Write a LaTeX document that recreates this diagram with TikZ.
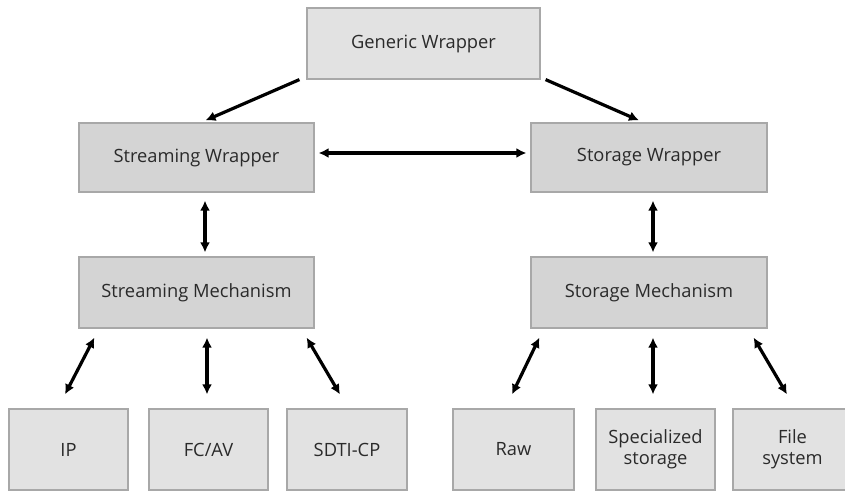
\documentclass[tikz,border=0pt]{standalone}
\usepackage{fontspec}
\setmainfont{Open Sans}
\usetikzlibrary{arrows.meta}
\definecolor{lightbox}{HTML}{E2E2E2}
\definecolor{darkbox}{HTML}{D4D4D4}
\definecolor{boxline}{HTML}{A8A8A8}
\definecolor{txt}{HTML}{2A2A2A}
\begin{document}
\begin{tikzpicture}[x=1pt,y=-1pt,
  box/.style={draw=boxline,line width=1.2pt,inner sep=0pt,text=txt,font=\fontsize{18.3}{21}\selectfont,align=center},
  lbox/.style={box,fill=lightbox},
  dbox/.style={box,fill=darkbox},
  arr/.style={line width=3.2pt,-{Latex[length=10pt,width=10pt]}},
  darr/.style={line width=3.2pt,{Latex[length=10pt,width=10pt]}-{Latex[length=10pt,width=10pt]}}]
\useasboundingbox[fill=white] (0,0) rectangle (845,493);
\node[lbox,minimum width=233pt,minimum height=71pt] (gen) at (423.5,43.5) {Generic Wrapper};
\node[dbox,minimum width=235pt,minimum height=69pt] (sw) at (196.5,157.5) {Streaming Wrapper};
\node[dbox,minimum width=236pt,minimum height=69pt] (stw) at (649,157.5) {Storage Wrapper};
\node[dbox,minimum width=235pt,minimum height=71pt] (sm) at (196.5,292.5) {Streaming Mechanism};
\node[dbox,minimum width=236pt,minimum height=71pt] (stm) at (649,292.5) {Storage Mechanism};
\node[lbox,minimum width=119pt,minimum height=81pt] (ip) at (68.5,449.5) {IP};
\node[lbox,minimum width=119pt,minimum height=81pt] (fc) at (208.5,449.5) {FC/AV};
\node[lbox,minimum width=120pt,minimum height=81pt] (sdti) at (347,449.5) {SDTI-CP};
\node[lbox,minimum width=121pt,minimum height=81pt] (raw) at (513.5,449.5) {Raw};
\node[lbox,minimum width=119pt,minimum height=81pt] (spec) at (655.5,449.5) {Specialized\\storage};
\node[lbox,minimum width=119pt,minimum height=81pt] (file) at (792.5,449.5) {File\\system};
\draw[arr] ([xshift=-7pt]gen.south west) -- ([xshift=9pt,yshift=2pt]sw.north);
\draw[arr] ([xshift=5pt]gen.south east) -- ([xshift=-10pt,yshift=2pt]stw.north);
\draw[darr] ([xshift=4pt,yshift=4.5pt]sw.east) -- ([xshift=-4pt,yshift=4.5pt]stw.west);
\draw[darr] ([xshift=8.5pt,yshift=-8pt]sw.south) -- ([xshift=8.5pt,yshift=4pt]sm.north);
\draw[darr] ([xshift=4pt,yshift=-8pt]stw.south) -- ([xshift=4pt,yshift=4pt]stm.north);
\draw[darr] ([xshift=16pt,yshift=-9pt]sm.south west) -- ([xshift=-3.5pt,yshift=14pt]ip.north);
\draw[darr] ([xshift=10.5pt,yshift=-9pt]sm.south) -- ([xshift=-1.5pt,yshift=14pt]fc.north);
\draw[darr] ([xshift=-8pt,yshift=-9pt]sm.south east) -- ([xshift=-7pt,yshift=14pt]sdti.north);
\draw[darr] ([xshift=9pt,yshift=-9pt]stm.south west) -- ([xshift=-1.5pt,yshift=14pt]raw.north);
\draw[darr] ([xshift=4pt,yshift=-9pt]stm.south) -- ([xshift=-2.5pt,yshift=14pt]spec.north);
\draw[darr] ([xshift=-14pt,yshift=-9pt]stm.south east) -- ([xshift=-5.5pt,yshift=14pt]file.north);
\end{tikzpicture}
\end{document}
